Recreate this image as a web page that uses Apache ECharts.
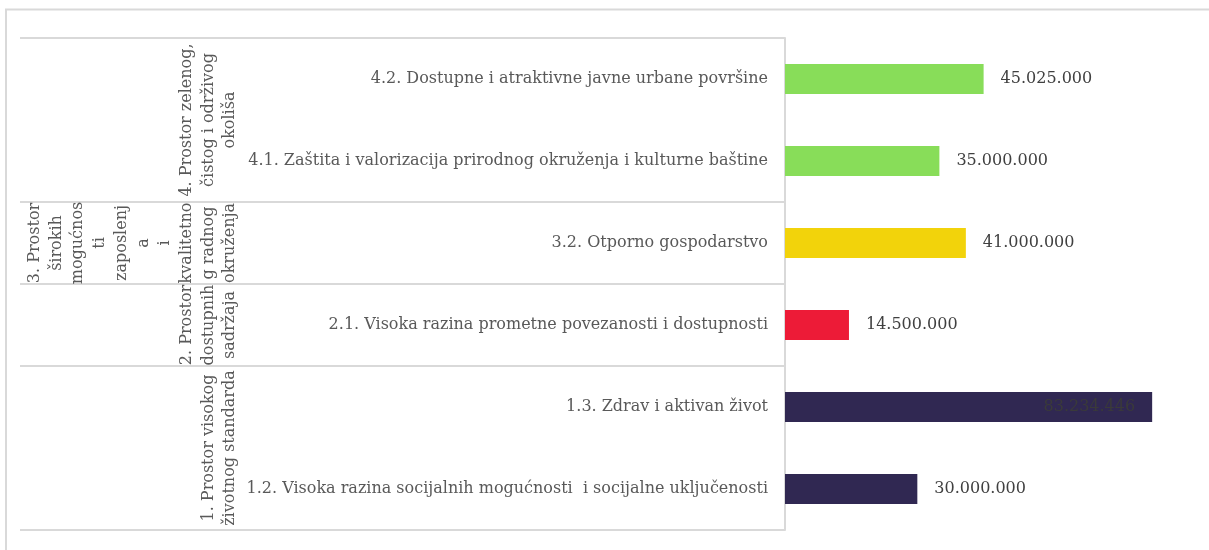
<!DOCTYPE html>
<html>
<head>
<meta charset="utf-8">
<script src="https://cdn.jsdelivr.net/npm/echarts@6/dist/echarts.min.js"></script>
<style>
html,body{margin:0;padding:0;background:#fff;}
#c{width:1209px;height:550px;}
</style>
</head>
<body>
<div id="c"></div>
<script>
// Leaf categories (bottom to top)
const categories = [
  "1.2. Visoka razina socijalnih mogućnosti  i socijalne uključenosti",
  "1.3. Zdrav i aktivan život",
  "2.1. Visoka razina prometne povezanosti i dostupnosti",
  "3.2. Otporno gospodarstvo",
  "4.1. Zaštita i valorizacija prirodnog okruženja i kulturne baštine",
  "4.2. Dostupne i atraktivne javne urbane površine"
];
const values = [30000000, 83234446, 14500000, 41000000, 35000000, 45025000];
const categoryGroup = [0, 0, 1, 2, 3, 3];
// Priority groups
const groupNames = [
  "1. Prostor visokog\nživotnog standarda",
  "2. Prostor\ndostupnih\nsadržaja",
  "3. Prostor\nširokih\nmogućnos\nti\nzaposlenj\na\ni\nkvalitetno\ng radnog\nokruženja",
  "4. Prostor zelenog,\nčistog i održivog\nokoliša"
];
const groupStart = [0, 2, 3, 4];
const groupEnd = [1, 2, 3, 5];

const groupColors = ["#302852", "#ED1B37", "#F2D30B", "#88DD59"];

function fmt(v) {
  return String(Math.round(v)).replace(/\B(?=(\d{3})+(?!\d))/g, ".");
}

const chart = echarts.init(document.getElementById('c'));
const FONT = "'DejaVu Serif', serif";

const barData = values.map((v, i) => {
  const item = { value: v, itemStyle: { color: groupColors[categoryGroup[i]] } };
  if (v > 70000000) {
    item.label = { position: 'insideRight', color: '#3a3a3a', distance: 17 };
  }
  return item;
});

const groupData = groupNames.map((n, i) => [0, groupStart[i], groupEnd[i], i]);

chart.setOption({
  animation: false,
  backgroundColor: '#ffffff',
  graphic: [{
    type: 'rect',
    shape: { x: 6, y: 9.5, width: 1400, height: 700 },
    style: { fill: 'none', stroke: '#d9d9d9', lineWidth: 2 },
    silent: true
  }],
  grid: { left: 785, right: 27, top: 38, bottom: 20, containLabel: false },
  xAxis: {
    type: 'value', min: 0, max: 90000000, interval: 10000000,
    show: false
  },
  yAxis: {
    type: 'category',
    data: categories,
    axisLine: { show: true, lineStyle: { color: '#d9d9d9', width: 2 } },
    axisTick: {
      show: true,
      length: 765,
      interval: function (idx) { return groupStart.indexOf(idx) >= 0; },
      lineStyle: { color: '#d9d9d9', width: 2 }
    },
    axisLabel: {
      color: '#595959', fontFamily: FONT, fontSize: 16, margin: 17
    },
    splitLine: { show: false }
  },
  series: [{
    type: 'bar',
    data: barData,
    barWidth: 30,
    label: {
      show: true, position: 'right', distance: 17,
      color: '#404040', fontFamily: FONT, fontSize: 16,
      formatter: p => fmt(p.value)
    }
  }, {
    type: 'custom',
    coordinateSystem: 'cartesian2d',
    clip: false,
    silent: true,
    encode: { x: 0, y: 1 },
    data: groupData,
    renderItem: function (params, api) {
      const s = api.value(1), e = api.value(2), gi = api.value(3);
      const p1 = api.coord([0, s]);
      const p2 = api.coord([0, e]);
      const yc = (p1[1] + p2[1]) / 2;
      return {
        type: 'text',
        x: p1[0] - 544,
        y: yc,
        rotation: Math.PI / 2,
        style: {
          text: groupNames[gi],
          fill: '#595959',
          font: "16px " + FONT,
          lineHeight: 21.7,
          align: 'center',
          verticalAlign: 'bottom'
        }
      };
    }
  }]
});
</script>
</body>
</html>
